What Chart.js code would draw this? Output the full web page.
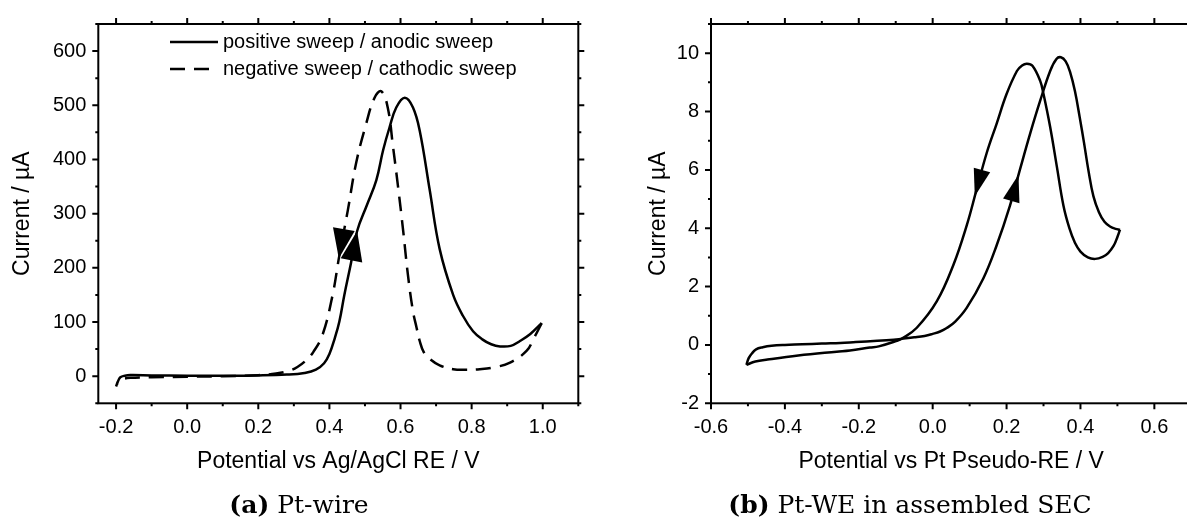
<!DOCTYPE html>
<html>
<head>
<meta charset="utf-8">
<script src="https://cdn.jsdelivr.net/npm/chart.js@4.4.1/dist/chart.umd.min.js"></script>
<style>
  html, body { margin: 0; padding: 0; background: #fff; overflow: hidden; width: 1187px; height: 529px; }
  #wrapA { position: absolute; left: 0; top: 0; }
  #wrapB { position: absolute; left: 593px; top: 0; }
</style>
</head>
<body>
<div id="wrapA"><canvas id="chartA" width="593" height="529"></canvas></div>
<div id="wrapB"><canvas id="chartB" width="600" height="529"></canvas></div>
<script>
// (a) Pt-wire : potential (V) and current (uA)
const anodicV = [-0.2, -0.195, -0.188, -0.175, -0.16, -0.1, 0.0, 0.1, 0.2, 0.28, 0.33, 0.362, 0.385, 0.40, 0.415, 0.428, 0.442, 0.461, 0.478, 0.505, 0.532, 0.551, 0.569, 0.588, 0.612, 0.635, 0.654, 0.682, 0.710, 0.748, 0.775, 0.804, 0.83, 0.855, 0.880, 0.91, 0.936, 0.965, 0.997];
const anodicI = [-19, -10, -2, 1, 2, 1.5, 1, 1, 1.5, 3, 6, 12, 24, 41, 70, 101, 150, 210, 268, 315, 362, 417, 459, 496, 514, 496, 453, 344, 235, 150, 112, 83, 68, 59, 55, 56, 65, 78, 98];
const cathodicV = [0.997, 0.975, 0.955, 0.908, 0.86, 0.823, 0.785, 0.748, 0.71, 0.682, 0.665, 0.654, 0.645, 0.635, 0.621, 0.607, 0.593, 0.579, 0.564, 0.546, 0.527, 0.503, 0.475, 0.452, 0.428, 0.409, 0.381, 0.355, 0.334, 0.31, 0.287, 0.25, 0.2, 0.1, 0.0, -0.1, -0.16, -0.18, -0.19, -0.197];
const cathodicI = [98, 70, 47, 25, 16, 13, 12, 13, 20, 32, 45, 65, 90, 120, 186, 271, 350, 423, 496, 526, 514, 465, 393, 307, 223, 150, 77, 45, 29, 17, 10, 5, 2, 0, -1, -2, -3, -5, -9, -14];

// (b) Pt-WE in assembled SEC
const fwdV = [-0.504, -0.498, -0.488, -0.478, -0.46, -0.436, -0.4, -0.353, -0.3, -0.25, -0.208, -0.15, -0.105, -0.084, -0.05, -0.022, 0.0, 0.02, 0.038, 0.061, 0.092, 0.137, 0.173, 0.209, 0.236, 0.264, 0.291, 0.318, 0.335, 0.347, 0.36, 0.372, 0.385, 0.398, 0.41, 0.422, 0.435, 0.45, 0.465, 0.48, 0.495, 0.507];
const fwdI = [-0.68, -0.45, -0.27, -0.15, -0.08, -0.03, 0.0, 0.02, 0.05, 0.07, 0.1, 0.14, 0.18, 0.21, 0.26, 0.31, 0.38, 0.46, 0.58, 0.8, 1.27, 2.28, 3.41, 4.77, 6.0, 7.25, 8.37, 9.39, 9.8, 9.86, 9.72, 9.35, 8.7, 7.8, 6.9, 5.95, 5.1, 4.55, 4.22, 4.06, 3.98, 3.95];
const revV = [0.507, 0.5, 0.49, 0.475, 0.46, 0.44, 0.42, 0.4, 0.385, 0.37, 0.354, 0.336, 0.318, 0.3, 0.291, 0.27, 0.255, 0.242, 0.228, 0.2, 0.173, 0.146, 0.119, 0.092, 0.056, 0.011, -0.043, -0.084, -0.097, -0.146, -0.17, -0.224, -0.26, -0.364, -0.447, -0.48, -0.504];
const revI = [3.95, 3.7, 3.4, 3.15, 3.02, 2.95, 3.0, 3.2, 3.5, 4.0, 4.77, 6.12, 7.47, 8.6, 9.05, 9.57, 9.64, 9.58, 9.39, 8.6, 7.58, 6.57, 5.33, 4.09, 2.74, 1.49, 0.59, 0.21, 0.14, -0.05, -0.09, -0.19, -0.23, -0.36, -0.5, -0.57, -0.68];

// tick labels
const xTicksA = [-0.2, 0.0, 0.2, 0.4, 0.6, 0.8, 1.0];
const yTicksA = [0, 100, 200, 300, 400, 500, 600];
const xTicksB = [-0.6, -0.4, -0.2, 0.0, 0.2, 0.4, 0.6];
const yTicksB = [-2, 0, 2, 4, 6, 8, 10];

const SANS = '"Liberation Sans", Arial, sans-serif';
Chart.defaults.color = '#000';
Chart.defaults.font.family = SANS;

const pts = (xs, ys) => xs.map((x, i) => ({x: x, y: ys[i]}));

function steps(min, max, step) {
  const out = [];
  for (let k = Math.ceil(min / step - 1e-9); k * step <= max + 1e-9; k++) out.push(k * step);
  return out;
}

// box round the plot with outward ticks on all four sides
const framePlugin = {
  id: 'frame',
  afterDraw(chart, args, o) {
    const {ctx, chartArea: a, scales: {x, y}} = chart;
    ctx.save();
    ctx.strokeStyle = '#000';
    ctx.lineWidth = 2;
    ctx.strokeRect(a.left, a.top, a.right - a.left, a.bottom - a.top);
    ctx.beginPath();
    const xm = (vals, len) => vals.forEach(v => {
      const p = x.getPixelForValue(v);
      ctx.moveTo(p, a.bottom); ctx.lineTo(p, a.bottom + len);
      ctx.moveTo(p, a.top); ctx.lineTo(p, a.top - len);
    });
    const ym = (vals, len) => vals.forEach(v => {
      const p = y.getPixelForValue(v);
      ctx.moveTo(a.left, p); ctx.lineTo(a.left - len, p);
      ctx.moveTo(a.right, p); ctx.lineTo(a.right + len, p);
    });
    xm(steps(x.min, x.max, o.xMinor), 3);
    ym(steps(y.min, y.max, o.yMinor), 3);
    xm(o.xMajor, 6);
    ym(o.yMajor, 6);
    ctx.stroke();
    ctx.restore();
  }
};

// sweep direction arrows, placed where a sweep crosses a given current
const arrowPlugin = {
  id: 'arrows',
  afterDatasetsDraw(chart, args, o) {
    const {ctx, scales: {x, y}} = chart;
    ctx.save();
    ctx.fillStyle = '#000';
    (o.items || []).forEach(it => {
      const d = chart.data.datasets[it.ds].data;
      let start = 0;
      if (it.afterPeak) {
        d.forEach((p, i) => { if (p.y > d[start].y) start = i; });
      }
      for (let i = start; i < d.length - 1; i++) {
        const p0 = d[i], p1 = d[i + 1];
        if ((p0.y - it.level) * (p1.y - it.level) > 0) continue;
        const t = (it.level - p0.y) / (p1.y - p0.y);
        const tipX = x.getPixelForValue(p0.x + t * (p1.x - p0.x));
        const tipY = y.getPixelForValue(it.level);
        let dx = x.getPixelForValue(p1.x) - x.getPixelForValue(p0.x);
        let dy = y.getPixelForValue(p1.y) - y.getPixelForValue(p0.y);
        const n = Math.hypot(dx, dy);
        dx /= n; dy /= n;
        const bx = tipX - dx * it.len, by = tipY - dy * it.len;
        ctx.beginPath();
        ctx.moveTo(tipX, tipY);
        ctx.lineTo(bx - dy * it.half, by + dx * it.half);
        ctx.lineTo(bx + dy * it.half, by - dx * it.half);
        ctx.closePath();
        ctx.fill();
        break;
      }
    });
    ctx.restore();
  }
};

// legend drawn inside the plot
const innerLegend = {
  id: 'innerLegend',
  afterDraw(chart, args, o) {
    if (!o.show) return;
    const ctx = chart.ctx;
    ctx.save();
    ctx.font = '20px ' + SANS;
    ctx.textBaseline = 'middle';
    ctx.fillStyle = '#000';
    chart.data.datasets.forEach((ds, i) => {
      const yy = o.y + i * o.dy;
      ctx.strokeStyle = '#000';
      ctx.lineWidth = ds.borderWidth;
      ctx.setLineDash(ds.borderDash || []);
      ctx.beginPath();
      ctx.moveTo(o.x, yy);
      ctx.lineTo(o.x + o.len, yy);
      ctx.stroke();
      ctx.setLineDash([]);
      ctx.fillText(ds.label, o.x + o.len + 5, yy);
    });
    ctx.restore();
  }
};

// sub-figure caption below the axis title
const captionPlugin = {
  id: 'caption',
  afterDraw(chart, args, o) {
    const ctx = chart.ctx;
    ctx.save();
    ctx.fillStyle = '#000';
    ctx.textBaseline = 'alphabetic';
    const bold = 'bold 25px "DejaVu Serif", serif';
    const reg = '25px "DejaVu Serif", serif';
    ctx.font = bold;
    const w1 = ctx.measureText(o.tag).width;
    ctx.font = reg;
    const w2 = ctx.measureText(o.text).width;
    let x0 = o.cx - (w1 + w2) / 2;
    ctx.font = bold;
    ctx.fillText(o.tag, x0, o.y);
    ctx.font = reg;
    ctx.fillText(o.text, x0 + w1, o.y);
    ctx.restore();
  }
};

function axes(xr, yr, xTicks, yTicks, xTitle, yWidth, yTitlePad) {
  return {
    x: {
      type: 'linear', min: xr[0], max: xr[1],
      grid: {display: false, drawTicks: false}, border: {display: false},
      afterBuildTicks: s => { s.ticks = xTicks.map(v => ({value: v})); },
      afterFit: s => { s.height = 125.7; },
      ticks: {font: {size: 20}, padding: 12, callback: v => v.toFixed(1)},
      title: {display: true, text: xTitle, font: {size: 23}, padding: {top: 0, bottom: 54}}
    },
    y: {
      type: 'linear', min: yr[0], max: yr[1],
      grid: {display: false, drawTicks: false}, border: {display: false},
      afterBuildTicks: s => { s.ticks = yTicks.map(v => ({value: v})); },
      afterFit: s => { s.width = yWidth; },
      ticks: {font: {size: 20}, padding: 12, callback: v => String(v)},
      title: {display: true, text: 'Current / µA', font: {size: 23}, padding: {top: yTitlePad, bottom: 0}}
    }
  };
}

const lineStyle = {showLine: true, pointRadius: 0, borderColor: '#000', backgroundColor: '#000', borderWidth: 2.5, tension: 0.4, fill: false};

new Chart(document.getElementById('chartA'), {
  type: 'scatter',
  data: {
    datasets: [
      Object.assign({label: 'positive sweep / anodic sweep', data: pts(anodicV, anodicI)}, lineStyle),
      Object.assign({label: 'negative sweep / cathodic sweep', data: pts(cathodicV, cathodicI), borderDash: [15, 9]}, lineStyle)
    ]
  },
  options: {
    responsive: false, animation: false,
    layout: {padding: {left: 0, top: 19, right: 14.7, bottom: 0}},
    scales: axes([-0.25, 1.1], [-50, 650], xTicksA, yTicksA, 'Potential vs Ag/AgCl RE / V', 98.3, 9),
    plugins: {
      legend: {display: false}, tooltip: {enabled: false},
      frame: {xMajor: xTicksA, yMajor: yTicksA, xMinor: 0.1, yMinor: 50},
      arrows: {items: [
        {ds: 1, level: 217, afterPeak: true, len: 30, half: 11},
        {ds: 0, level: 268, afterPeak: false, len: 30, half: 11}
      ]},
      innerLegend: {show: true, x: 170, y: 42, dy: 27, len: 48},
      caption: {tag: '(a)', text: ' Pt-wire', cx: 299, y: 513}
    }
  },
  plugins: [framePlugin, arrowPlugin, innerLegend, captionPlugin]
});

new Chart(document.getElementById('chartB'), {
  type: 'scatter',
  data: {
    datasets: [
      Object.assign({label: 'forward', data: pts(fwdV, fwdI)}, lineStyle),
      Object.assign({label: 'reverse', data: pts(revV, revI)}, lineStyle)
    ]
  },
  options: {
    responsive: false, animation: false,
    layout: {padding: {left: 0, top: 19, right: 1.7, bottom: 0}},
    scales: axes([-0.6, 0.7], [-2, 11], xTicksB, yTicksB, 'Potential vs Pt Pseudo-RE / V', 118, 52),
    plugins: {
      legend: {display: false}, tooltip: {enabled: false},
      frame: {xMajor: xTicksB, yMajor: yTicksB, xMinor: 0.1, yMinor: 1},
      arrows: {items: [
        {ds: 1, level: 5.1, afterPeak: true, len: 27, half: 8.5},
        {ds: 0, level: 5.83, afterPeak: false, len: 27, half: 8.5}
      ]},
      innerLegend: {show: false},
      caption: {tag: '(b)', text: ' Pt-WE in assembled SEC', cx: 317, y: 513}
    }
  },
  plugins: [framePlugin, arrowPlugin, innerLegend, captionPlugin]
});
</script>
</body>
</html>
